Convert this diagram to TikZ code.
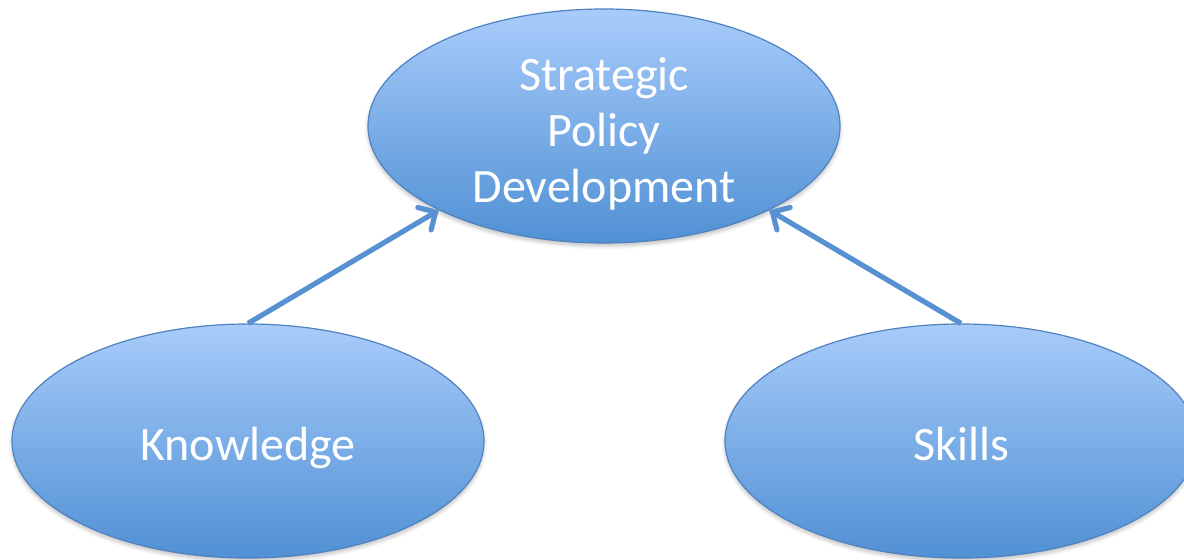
\documentclass[tikz,border=0pt]{standalone}
\usepackage{fontspec}
\setmainfont{Carlito}
\usetikzlibrary{shapes.geometric,arrows.meta,shadows.blur}
\definecolor{bubbletop}{RGB}{168,204,251}
\definecolor{bubblebot}{RGB}{80,144,212}
\definecolor{bubbleline}{RGB}{80,130,192}
\definecolor{linkblue}{RGB}{88,145,210}
\tikzset{
  bubble/.style={ellipse, draw=bubbleline, line width=0.6pt,
    top color=bubbletop, bottom color=bubblebot,
    minimum width=236pt, minimum height=117pt, inner sep=0pt,
    text=white, align=center,
    font=\fontsize{24}{28}\selectfont,
    blur shadow={shadow xshift=0pt, shadow yshift=-1.5pt, shadow opacity=25, shadow blur steps=6}},
  link/.style={draw=linkblue, line width=2.6pt,
    -{Straight Barb[length=6.5pt,width=13pt,line cap=round]}}
}
\begin{document}
\begin{tikzpicture}[x=0.5pt,y=0.5pt]
      \useasboundingbox (0,0) rectangle (1184,559);  % page size

      % goal
      \node[bubble, text height=77pt, text depth=1pt] (spd) at (604,433)
        {Strategic\\Policy\\Development};  % top ellipse

      % inputs
      \node[bubble, text height=21pt, text depth=2pt] (know) at (248,118) {Knowledge};  % left ellipse
      \node[bubble, text height=21pt, text depth=2pt] (skill) at (961,118) {Skills};  % right ellipse

      % arrows up to the goal
      \draw[link] (know.north) -- (spd.207);  % left arrow
      \draw[link] (skill.north) -- (spd.-27);  % right arrow
\end{tikzpicture}
\end{document}
